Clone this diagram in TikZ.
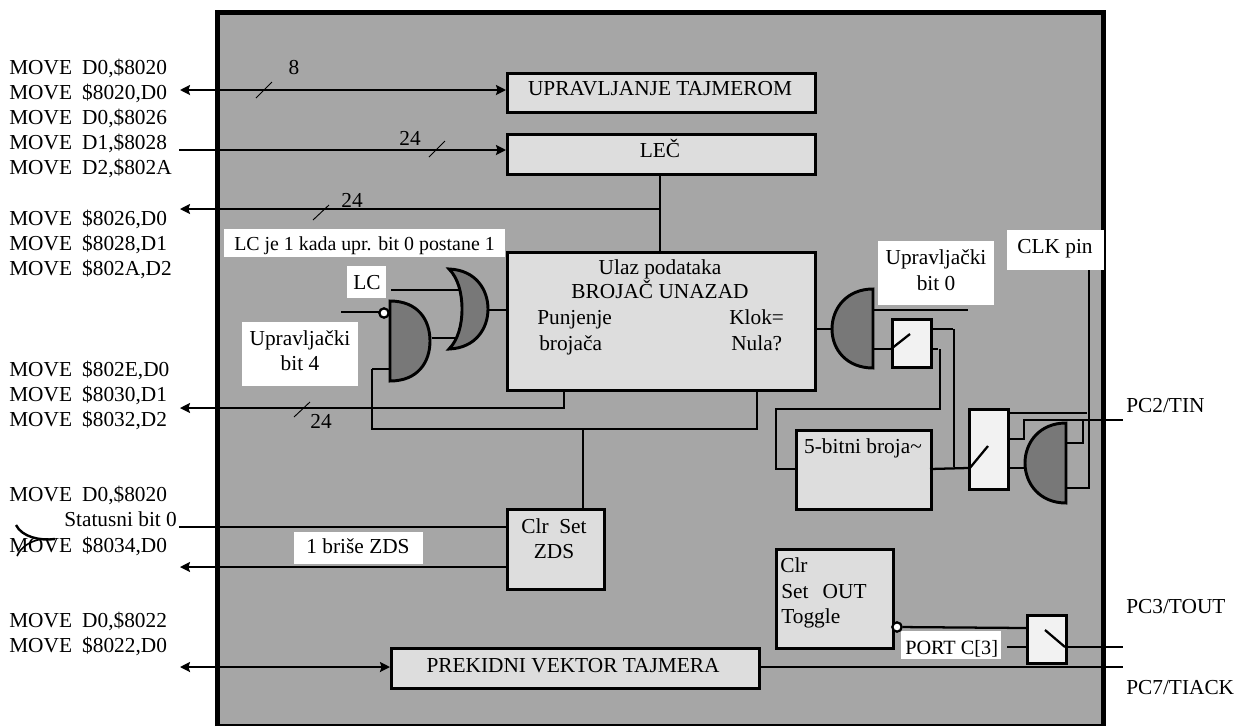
\documentclass[tikz,border=0pt]{standalone}
\usepackage{fontspec}
\setmainfont{Liberation Serif}
\usetikzlibrary{arrows.meta}
\definecolor{panel}{HTML}{A6A6A6}
\definecolor{boxfill}{HTML}{DDDDDD}
\definecolor{swfill}{HTML}{F2F2F2}
\definecolor{gatefill}{HTML}{787878}
\newcommand{\mv}{\makebox[54.75pt][l]{MOVE}}
\tikzset{
 bt/.style={inner sep=0pt,font=\fontsize{16}{16}\selectfont,text=black,anchor=base},
 blt/.style={bt,anchor=base west},
 boxn/.style={draw=black,line width=2.2pt,fill=boxfill,anchor=north west,inner sep=0pt},
 sw/.style={draw=black,line width=2.2pt,fill=swfill,anchor=north west,inner sep=0pt},
 lab/.style={fill=white,anchor=north west,inner sep=0pt},
 wire/.style={draw=black,line width=1.7pt},
 thin wire/.style={draw=black,line width=1.2pt},
 awire/.style={-{Stealth[length=7.5pt,width=7.5pt,inset=1.2pt]}},
 dwire/.style={{Stealth[length=7.5pt,width=7.5pt,inset=1.2pt]}-{Stealth[length=7.5pt,width=7.5pt,inset=1.2pt]}},
 gate/.style={draw=black,line width=2.2pt,fill=gatefill},
 bub/.style={circle,draw=black,line width=1.7pt,fill=white,minimum size=7pt,inner sep=0pt},
 slash/.style={draw=black,line width=.7pt}
}
\begin{document}
\begin{tikzpicture}[x=.75pt,y=-.75pt]
\useasboundingbox (0,0) rectangle (1242,726);
% panel
\path[fill=panel] (218,12) rectangle (1103,725);
\draw[black,line width=3.75pt] (217.5,726) -- (217.5,12) -- (1103.5,12) -- (1103.5,726);
\draw[black,line width=.8pt] (218,725) -- (1103,725);
% left texts
\foreach \n/\y/\t in {a/74/{D0,\$8020},b/99/{\$8020,D0},c/124/{D0,\$8026},d/149/{D1,\$8028},e/174/{D2,\$802A},f/225/{\$8026,D0},g/250/{\$8028,D1},h/275/{\$802A,D2},i/376/{\$802E,D0},j/401/{\$8030,D1},k/426/{\$8032,D2},l/501/{D0,\$8020},m/552/{\$8034,D0},n/627/{D0,\$8022},o/652/{\$8022,D0}}
 {\node[blt] (t\n) at (9,\y) {\mv\t};}
\node[blt] (tstat) at (64,526) {Statusni bit 0};
% boxes
\node[boxn,minimum width=231pt,minimum height=29pt] (upr) at (506,72) {};
\node[bt] (upt) at (660,95) {UPRAVLJANJE TAJMEROM};
\node[boxn,minimum width=231pt,minimum height=30pt] (lec) at (506,133) {};
\node[bt] (let) at (660,157) {LEČ};
\node[boxn,minimum width=231pt,minimum height=103.5pt] (main) at (506,251) {};
\node[bt] (mt1) at (660,274) {Ulaz podataka};
\node[bt] (mt2) at (660,298) {BROJAČ UNAZAD};
\node[blt] (mt3) at (537,324) {Punjenje};
\node[blt] (mt4) at (539,350) {brojača};
\node[blt] (mt5) at (729,324) {Klok=};
\node[blt] (mt6) at (731,350) {Nula?};
\node[boxn,minimum width=72.75pt,minimum height=60pt] (zds) at (506,508) {};
\node[bt] (z1) at (554,533) {Clr\ \ Set};
\node[bt] (z2) at (554,558) {ZDS};
\node[boxn,minimum width=101pt,minimum height=59.5pt] (cnt) at (795,429) {};
\node[bt] (c1) at (863,453) {5-bitni broja\char126};
\node[boxn,minimum width=87.75pt,minimum height=74.25pt] (out) at (775,548) {};
\node[blt] (o1) at (780,572) {Clr};
\node[blt] (o2) at (781,598) {Set\ \ \,OUT};
\node[blt] (o3) at (781,623) {Toggle};
\node[boxn,minimum width=276pt,minimum height=30pt] (prek) at (390,647) {};
\node[bt] (prt) at (573,672) {PREKIDNI VEKTOR TAJMERA};
\node[sw,minimum width=29.25pt,minimum height=36pt] (s1) at (891,318) {};
\node[sw,minimum width=29.25pt,minimum height=60pt] (s2) at (968,408) {};
\node[sw,minimum width=29.25pt,minimum height=36pt] (s3) at (1026,614) {};
% white labels
\node[lab,minimum width=210.75pt,minimum height=21pt] (lcje) at (224,229) {};
\node[blt,font=\fontsize{14.9}{14.9}\selectfont] (lcjt) at (234,250) {LC je 1 kada upr. bit 0 postane 1};
\node[lab,minimum width=29.25pt,minimum height=24pt] (lc) at (347,266) {};
\node[bt] (lct) at (367,289) {LC};
\node[lab,minimum width=87pt,minimum height=48pt] (ub4) at (242,322) {};
\node[bt] (ub4a) at (300,345) {Upravljački};
\node[bt] (ub4b) at (300,370) {bit 4};
\node[lab,minimum width=87pt,minimum height=48pt] (ub0) at (878,241) {};
\node[bt] (ub0a) at (936,264) {Upravljački};
\node[bt] (ub0b) at (936,290) {bit 0};
\node[lab,minimum width=72.75pt,minimum height=30pt] (clk) at (1007,230) {};
\node[bt] (clkt) at (1055,253) {CLK pin};
\node[lab,minimum width=96.75pt,minimum height=24pt] (bri) at (294,532) {};
\node[bt] (brit) at (358,553) {1 briše ZDS};
\node[lab,minimum width=75pt,minimum height=20.5pt] (port) at (901,631) {};
\node[blt,font=\fontsize{15.2}{15.2}\selectfont] (pot) at (905,654) {PORT C[3]};
% outer labels
\node[blt] (pc2) at (1126,412) {PC2/TIN};
\node[blt] (pc3) at (1126,613) {PC3/TOUT};
\node[blt] (pc7) at (1126,694) {PC7/TIACK};
\node[bt] (n8) at (294,74) {8};
\node[bt] (n24a) at (410,145) {24};
\node[bt] (n24b) at (352,207) {24};
\node[bt] (n24c) at (321,428) {24};
% free ends
\coordinate (l8) at (180,90);
\coordinate (l24) at (179,150);
\coordinate (l24b) at (180,209);
\coordinate (l24c) at (180,408);
\coordinate (lst) at (179,527);
\coordinate (lbr) at (180,567);
\coordinate (lpr) at (180,667);
\coordinate (r7) at (1123,667);
\coordinate (r3) at (1123,647);
\coordinate (r2) at (1123,420);
% bus wires
\draw[wire,dwire] (l8) -- (l8 -| upr.west);
\draw[wire,awire] (l24) -- (l24 -| lec.west);
\coordinate (j1) at (660,209);
\draw[wire] (j1 |- lec.south) -- (j1 |- main.north);
\draw[thin wire,awire] (j1) -- (l24b);
\draw[thin wire,awire] (564,389) -- (564,408) -- (l24c);
\draw[wire] (372,369) -- (372,429) -- (757,429) -- (757,389);
\draw[wire] (583,429) -- (583,508);
\draw[wire] (lst) -- (lst -| zds.west);
\draw[thin wire,awire] (lbr -| zds.west) -- (lbr);
\draw[wire,dwire] (lpr) -- (lpr -| prek.west);
\draw[wire] (r7 -| prek.east) -- (r7);
% slashes
\draw[slash] (256,98) -- (272,82);
\draw[slash] (429,157) -- (445,141);
\draw[slash] (313,220) -- (329,205);
\draw[slash] (294,417) -- (310,402);
% left gates
\draw[wire] (341,312) -- (379,312);
\draw[wire] (391,290) -- (459,290);
\draw[wire] (432,338) -- (456,338);
\draw[wire] (488,310) -- (506,310);
\draw[gate] (390,301) .. controls (418,301) and (430,320) .. (430,341) .. controls (430,362) and (418,381) .. (390,381) -- cycle;
\draw[gate] (449,269) .. controls (476,270) and (488,290) .. (488,309) .. controls (488,328) and (476,348) .. (449,349) .. controls (458,340) and (462,325) .. (462,309) .. controls (462,293) and (458,278) .. (449,269) -- cycle;
\draw[wire] (372,369) -- (390,369);
\node[bub] (b1) at (384,313) {};
% first right gate
\draw[wire] (814,329) -- (832,329);
\draw[wire] (873,310) -- (968,310);
\draw[wire] (873,349) -- (891,349);
\draw[gate] (873,289) .. controls (847,289) and (832,308) .. (832,329) .. controls (832,350) and (847,368) .. (873,368) -- cycle;
\draw[wire] (891,349) -- (910,334);
\draw[wire] (930,329) -- (953,329);
\draw[wire] (954,329) -- (954,467);
\draw[wire] (930,349) -- (938,349);
\draw[wire] (940,349) -- (940,409) -- (776,409) -- (776,469) -- (795,469);
\draw[wire] (930,469) -- (968,468);
\draw[wire] (969,469) -- (988,446);
% second right gate
\draw[wire] (1007,413) -- (1087,413);
\draw[wire] (1007,439) -- (1024,439) -- (1024,420) -- (r2);
\draw[wire] (1007,468) -- (1025,468);
\draw[gate] (1066,423) .. controls (1040,423) and (1025,442) .. (1025,463) .. controls (1025,484) and (1040,503) .. (1066,503) -- cycle;
\draw[wire] (1066,443) -- (1083,443) -- (1083,420);
\draw[wire] (1066,488) -- (1089,488) -- (1089,270);
% out
\node[bub] (b2) at (897,627) {};
\draw[wire] (b2) -- (1026,628);
\draw[wire] (1007,647) -- (1026,647);
\draw[wire] (r3 -| s3.east) -- (r3);
\draw[wire] (1045,630) -- (1065,647);
% scribble
\draw[black,line width=1.8pt] (16,525) .. controls (22,537) and (40,541) .. (55,539);
\draw[black,line width=1.2pt] (17,556) .. controls (21,547) and (30,541) .. (42,539);
\end{tikzpicture}
\end{document}
